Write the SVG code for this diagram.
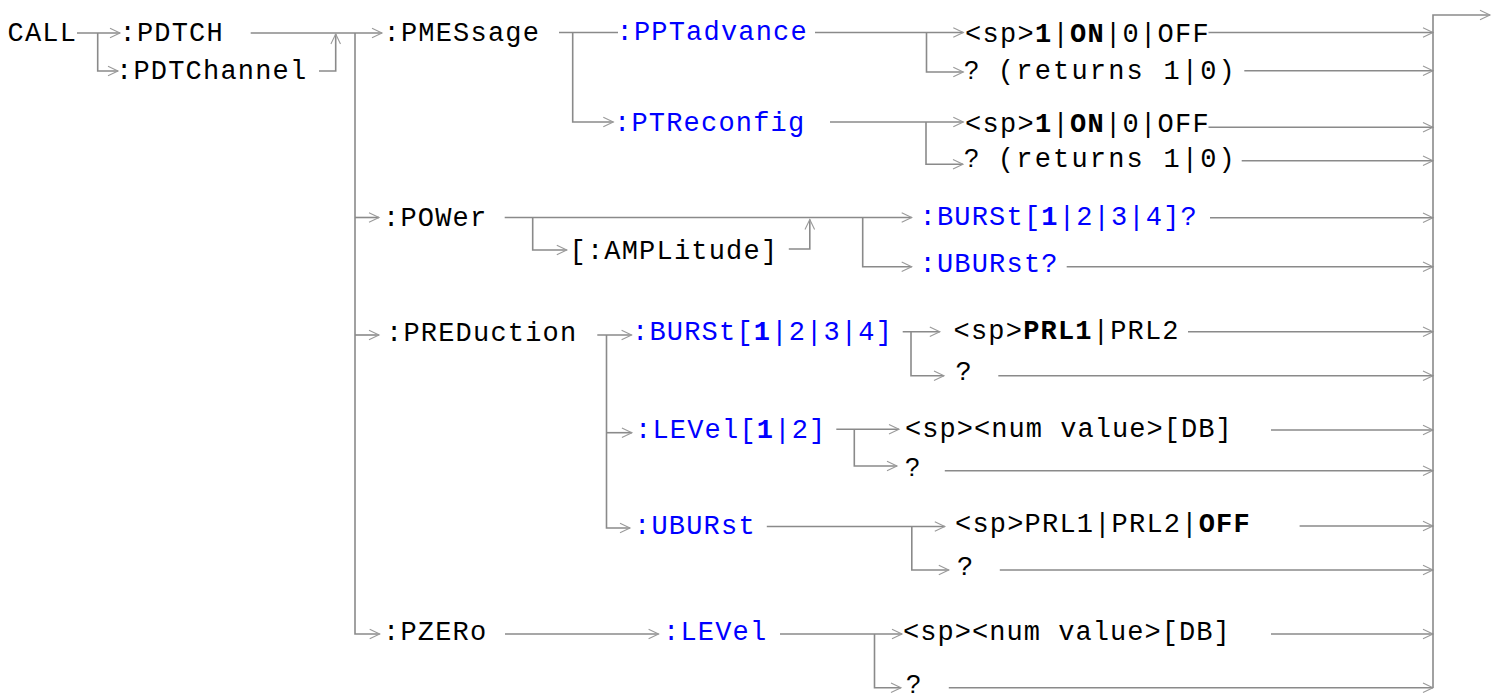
<svg xmlns="http://www.w3.org/2000/svg" width="1497" height="697" viewBox="0 0 1497 697">
<style>
text{font-family:"Liberation Mono","Courier New",monospace;font-size:27px;letter-spacing:1.2px;fill:#000}
.bl{fill:#0000ff}
.bd{font-weight:bold}
.q{font-family:"Liberation Sans",Arial,sans-serif;font-size:26px;letter-spacing:0}
.ln{fill:none;stroke:#8a8a8a;stroke-width:1.6}
.ar{marker-end:url(#ah)}
</style>
<defs>
<marker id="ah" markerUnits="userSpaceOnUse" markerWidth="14" markerHeight="12" viewBox="0 0 14 12" refX="11" refY="6" orient="auto">
<path d="M1,1.2 L11,6 L1,10.8" fill="none" stroke="#9a9a9a" stroke-width="1.1"/>
</marker>
</defs>
<rect width="1497" height="697" fill="#fff"/>
<g id="connectors">
<path class="ln ar" d="M77,33 H120"/>
<path class="ln ar" d="M97.7,33 V71 H118"/>
<path class="ln ar" d="M250.7,33 H382"/>
<path class="ln ar" d="M319,71 H335.7 V34"/>
<path class="ln ar" d="M355,33 V634 H379.7"/>
<path class="ln ar" d="M355,217.5 H379"/>
<path class="ln ar" d="M355,335 H379"/>
<path class="ln" d="M559,32.5 H618"/>
<path class="ln ar" d="M572.7,32.5 V122 H613.3"/>
<path class="ln ar" d="M815,32.5 H963.3"/>
<path class="ln ar" d="M926.5,32.5 V72 H963.3"/>
<path class="ln ar" d="M830,122 H963.3"/>
<path class="ln ar" d="M926,122 V164.3 H963"/>
<path class="ln ar" d="M1208.5,32.5 H1433"/>
<path class="ln ar" d="M1244.3,70.7 H1433"/>
<path class="ln ar" d="M1208.5,127.3 H1433"/>
<path class="ln ar" d="M1241.7,160.7 H1433"/>
<path class="ln ar" d="M504.7,217.5 H911.7"/>
<path class="ln ar" d="M532.7,217.5 V250 H566.8"/>
<path class="ln ar" d="M788.8,249 H809.8 V219.5"/>
<path class="ln ar" d="M862.7,217.5 V266.7 H911.7"/>
<path class="ln ar" d="M1210,217.7 H1433"/>
<path class="ln ar" d="M1066.7,266.7 H1433"/>
<path class="ln ar" d="M597.3,335 H631.6"/>
<path class="ln ar" d="M606.5,335 V528 H630"/>
<path class="ln ar" d="M606.5,432.7 H631.9"/>
<path class="ln ar" d="M902.7,331.7 H939.8"/>
<path class="ln ar" d="M911,331.7 V375.7 H944"/>
<path class="ln ar" d="M1188,331.7 H1433"/>
<path class="ln ar" d="M998.3,375.7 H1433"/>
<path class="ln ar" d="M836.3,429.3 H899"/>
<path class="ln ar" d="M854.3,429.3 V466 H897"/>
<path class="ln ar" d="M1271,430 H1433"/>
<path class="ln ar" d="M944.8,470.7 H1433"/>
<path class="ln ar" d="M766.8,526.5 H944.8"/>
<path class="ln ar" d="M911.8,526.5 V570 H948.8"/>
<path class="ln ar" d="M1299.6,526 H1433"/>
<path class="ln ar" d="M999.8,570 H1433"/>
<path class="ln ar" d="M505,634 H658.6"/>
<path class="ln ar" d="M780,634 H902"/>
<path class="ln ar" d="M874.5,634 V687.7 H901"/>
<path class="ln ar" d="M1271,634 H1433"/>
<path class="ln ar" d="M948.8,687.7 H1433"/>
<path class="ln ar" d="M1433,687.7 V15 H1490"/>
</g>
<g id="n-call"><text x="7.5" y="40.5">CALL</text></g>
<g id="n-pdtch"><text x="119.5" y="40.5">:PDTCH</text></g>
<g id="n-pdtchannel"><text x="116" y="78.5">:PDTChannel</text></g>
<g id="n-pmessage"><text x="383.5" y="40.5">:PMESsage</text></g>
<g id="n-pptadvance"><text class="bl" x="616.5" y="40">:PPTadvance</text></g>
<g id="n-ptreconfig"><text class="bl" x="614" y="130.5">:PTReconfig</text></g>
<g id="n-ppt-set"><text x="965" y="41.5" textLength="245" lengthAdjust="spacing">&lt;sp&gt;<tspan class="bd">1</tspan>|<tspan class="bd">ON</tspan>|0|OFF</text></g>
<g id="n-ppt-query"><text x="964" y="78.5" textLength="272" lengthAdjust="spacing"><tspan class="q">?</tspan> (returns 1|0)</text></g>
<g id="n-ptr-set"><text x="965" y="131.5" textLength="245" lengthAdjust="spacing">&lt;sp&gt;<tspan class="bd">1</tspan>|<tspan class="bd">ON</tspan>|0|OFF</text></g>
<g id="n-ptr-query"><text x="964" y="167" textLength="272" lengthAdjust="spacing"><tspan class="q">?</tspan> (returns 1|0)</text></g>
<g id="n-power"><text x="383" y="226">:POWer</text></g>
<g id="n-amplitude"><text x="569.5" y="258.5">[:AMPLitude]</text></g>
<g id="n-pow-burst"><text class="bl" x="919.5" y="224.5">:BURSt[<tspan class="bd">1</tspan>|2|3|4]?</text></g>
<g id="n-pow-uburst"><text class="bl" x="919.5" y="272">:UBURst?</text></g>
<g id="n-preduction"><text x="386" y="341">:PREDuction</text></g>
<g id="n-pred-burst"><text class="bl" x="632" y="340">:BURSt[<tspan class="bd">1</tspan>|2|3|4]</text></g>
<g id="n-burst-set"><text x="953.5" y="338.5">&lt;sp&gt;<tspan class="bd">PRL1</tspan>|PRL2</text></g>
<g id="n-burst-query"><text x="955.5" y="380">?</text></g>
<g id="n-pred-level"><text class="bl" x="635" y="437.5">:LEVel[<tspan class="bd">1</tspan>|2]</text></g>
<g id="n-level-set"><text x="905" y="436.7" textLength="328" lengthAdjust="spacing">&lt;sp&gt;&lt;num value&gt;[DB]</text></g>
<g id="n-level-query"><text class="q" x="905" y="476">?</text></g>
<g id="n-pred-uburst"><text class="bl" x="634" y="534">:UBURst</text></g>
<g id="n-uburst-set"><text x="955" y="531.7">&lt;sp&gt;PRL1|PRL2|<tspan class="bd">OFF</tspan></text></g>
<g id="n-uburst-query"><text x="957" y="575">?</text></g>
<g id="n-pzero"><text x="383" y="640">:PZERo</text></g>
<g id="n-pzero-level"><text class="bl" x="663" y="640">:LEVel</text></g>
<g id="n-pzero-set"><text x="903" y="640" textLength="328" lengthAdjust="spacing">&lt;sp&gt;&lt;num value&gt;[DB]</text></g>
<g id="n-pzero-query"><text class="q" x="906" y="692.5">?</text></g>
</svg>
